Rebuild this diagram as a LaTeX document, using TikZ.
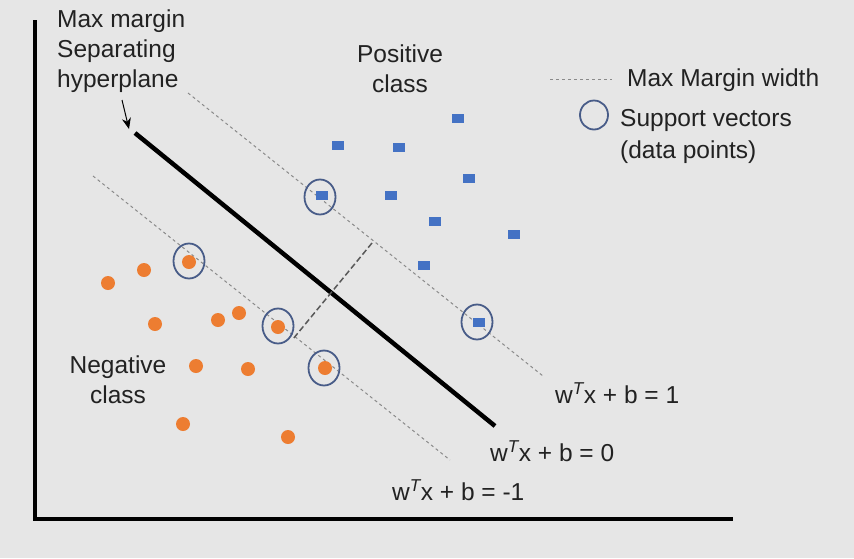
\documentclass[tikz,border=0pt]{standalone}
\usepackage{fontspec}
\setmainfont{Liberation Sans}
\usetikzlibrary{arrows.meta,shapes.geometric}
\definecolor{bg}{HTML}{E6E6E6}
\definecolor{txt}{HTML}{222222}
\definecolor{posblue}{HTML}{4472C4}
\definecolor{negorange}{HTML}{ED7D31}
\definecolor{svring}{HTML}{485C88}
\definecolor{margingray}{HTML}{8A8A8A}
\begin{document}
\begin{tikzpicture}[x=1pt,y=-1pt,
  lbl/.style={font=\fontsize{24.5}{30}\selectfont, text=txt, inner sep=0pt},
  posbox/.style={rectangle, fill=posblue, minimum width=12pt, minimum height=9pt, inner sep=0pt},
  negdot/.style={circle, fill=negorange, minimum size=14pt, inner sep=0pt},
  svring/.style={ellipse, draw=svring, line width=1.8pt, minimum width=31pt, minimum height=35pt, inner sep=0pt},
  marginline/.style={draw=margingray, line width=1pt, dash pattern=on 3pt off 3pt},
  widthline/.style={draw=black!65, line width=1.5pt, dash pattern=on 6pt off 3pt},
  axisline/.style={line width=4.5pt, line cap=rect}
]
\fill[bg] (0,0) rectangle (854,558);
\useasboundingbox (0,0) rectangle (854,558);

% axes
\coordinate (ytop) at (35,22);
\coordinate (origin) at (35,519);
\coordinate (xend) at (731,519);
\draw[axisline] (ytop) -- (origin) -- (xend);

% margin lines
\coordinate (p1) at (188,93);
\coordinate (p2) at (543,376);
\coordinate (n1) at (93,176);
\coordinate (n2) at (450,460);
\draw[marginline] (p1) -- (p2);
\draw[marginline] (n1) -- (n2);

% hyperplane
\coordinate (h1) at (135,133);
\coordinate (h2) at (495,426);
\draw[line width=4.5pt] (h1) -- (h2);

% margin width
\coordinate (w1) at (372,243);
\coordinate (w2) at (293,339);
\draw[widthline] (w1) -- (w2);

% label and arrow
\node[lbl, anchor=north west, align=left] (hyp) at (57,10) {Max margin\\Separating\\hyperplane};
\coordinate (a1) at (122,100);
\coordinate (a2) at (129,129);
\draw[line width=1pt, -{Stealth[length=11pt,width=9pt]}] (a1) -- (a2);

% positive points
\node[posbox] (b1) at (338,145) {};
\node[posbox] (b2) at (399,147) {};
\node[posbox] (b3) at (458,118) {};
\node[posbox] (b4) at (391,195) {};
\node[posbox] (b5) at (469,178) {};
\node[posbox] (b6) at (435,221) {};
\node[posbox] (b7) at (514,234) {};
\node[posbox] (b8) at (424,265) {};
\node[posbox] (b9) at (322,195) {};
\node[posbox] (b10) at (479,322) {};

% negative points
\node[negdot] (o1) at (108,283) {};
\node[negdot] (o2) at (144,270) {};
\node[negdot] (o3) at (155,324) {};
\node[negdot] (o4) at (218,320) {};
\node[negdot] (o5) at (239,313) {};
\node[negdot] (o6) at (196,366) {};
\node[negdot] (o7) at (248,369) {};
\node[negdot] (o8) at (183,424) {};
\node[negdot] (o9) at (288,437) {};
\node[negdot] (o10) at (189,262) {};
\node[negdot] (o11) at (278,327) {};
\node[negdot] (o12) at (325,368) {};

% support vector rings
\node[svring] (s1) at (320,197) {};
\node[svring] (s2) at (477,322) {};
\node[svring] (s3) at (189,261) {};
\node[svring] (s4) at (278,326) {};
\node[svring] (s5) at (324,368) {};

% class labels
\node[lbl, align=center] (poscls) at (400,69) {Positive\\class};
\node[lbl, align=center] (negcls) at (118,380) {Negative\\class};

% equations
\node[lbl, anchor=west] (eq1) at (555,393) {w\textsuperscript{\itshape T}x + b = 1};
\node[lbl, anchor=west] (eq0) at (490,451) {w\textsuperscript{\itshape T}x + b = 0};
\node[lbl, anchor=west] (eqm) at (392,490) {w\textsuperscript{\itshape T}x + b = -1};

% legend
\coordinate (l1) at (550,79);
\coordinate (l2) at (612,79);
\draw[marginline] (l1) -- (l2);
\node[lbl, anchor=west] (leg1) at (627,80) {Max Margin width};
\node[svring, minimum width=28pt, minimum height=29pt] (legsv) at (594,115) {};
\node[lbl, anchor=north west, align=left, font=\fontsize{24.5}{32}\selectfont] (leg2) at (620,109) {Support vectors\\(data points)};
\end{tikzpicture}
\end{document}
